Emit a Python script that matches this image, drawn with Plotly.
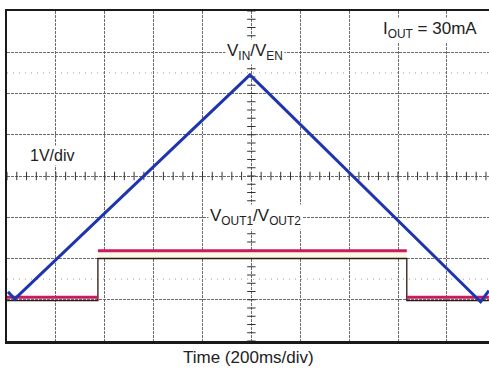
import numpy as np
import plotly.graph_objects as go

# Data (in scope divisions: x = time div, y = voltage div)
vin_x = [0.02, 0.16, 4.97, 9.69, 9.86]
vin_y = [1.19, 1.02, 6.45, 0.95, 1.22]

vout1_x = [0.0, 1.86, None, 1.86, 8.18, None, 8.18, 9.86]
vout1_y = [1.06, 1.06, None, 2.19, 2.19, None, 1.06, 1.06]

vout2_x = [0.0, 1.86, 1.86, 8.18, 8.18, 9.86]
vout2_y = [0.98, 0.98, 2.0, 2.0, 0.98, 0.98]

fill_x = [1.86, 8.18]
fill_lo = [2.0, 2.0]
fill_hi = [2.19, 2.19]

cursor_levels = [1.5, 6.5]

X_MAX = 9.862
Y_MAX = 8

FONT = "Liberation Sans, Arial, sans-serif"
TXT = "#222222"

fig = go.Figure()

# cursor dotted lines
for lv in cursor_levels:
    fig.add_trace(go.Scatter(x=[0, X_MAX], y=[lv, lv], mode="lines",
                             line=dict(color="#a0a0a0", width=1, dash="1px,5px"),
                             hoverinfo="skip", showlegend=False))

# center-axis minor ticks
tx = np.arange(0, X_MAX + 0.01, 0.2)
fig.add_trace(go.Scatter(x=tx, y=[4] * len(tx), mode="markers",
                         marker=dict(symbol="line-ns-open", size=6, color="#333333",
                                     line=dict(color="#333333", width=1)),
                         hoverinfo="skip", showlegend=False))
ty = np.arange(0, Y_MAX + 0.01, 0.2)
fig.add_trace(go.Scatter(x=[5] * len(ty), y=ty, mode="markers",
                         marker=dict(symbol="line-ew-open", size=6, color="#333333",
                                     line=dict(color="#333333", width=1)),
                         hoverinfo="skip", showlegend=False))

# cream fill between VOUT2 and VOUT1 high levels
fig.add_trace(go.Scatter(x=fill_x, y=fill_lo, mode="lines",
                         line=dict(width=0), hoverinfo="skip", showlegend=False))
fig.add_trace(go.Scatter(x=fill_x, y=fill_hi, mode="lines", fill="tonexty",
                         fillcolor="#faf7e6", line=dict(width=0),
                         hoverinfo="skip", showlegend=False))

# VOUT2 (dark)
fig.add_trace(go.Scatter(x=vout2_x, y=vout2_y, mode="lines",
                         line=dict(color="#2a1a12", width=1.3),
                         showlegend=False))
# VOUT1 (magenta)
fig.add_trace(go.Scatter(x=vout1_x, y=vout1_y, mode="lines", connectgaps=False,
                         line=dict(color="#cc1a5e", width=3),
                         showlegend=False))
# VIN/VEN (blue)
fig.add_trace(go.Scatter(x=vin_x, y=vin_y, mode="lines",
                         line=dict(color="#1f35b0", width=3),
                         showlegend=False))

ann_font = dict(family=FONT, size=17, color=TXT)
fig.add_annotation(x=5.08, y=7, text="V<sub>IN</sub>/V<sub>EN</sub>",
                   showarrow=False, bgcolor="white", font=ann_font,
                   xanchor="center", yanchor="middle", borderpad=1)
fig.add_annotation(x=5.08, y=3, text="V<sub>OUT1</sub>/V<sub>OUT2</sub>",
                   showarrow=False, bgcolor="white", font=ann_font,
                   xanchor="center", yanchor="middle", borderpad=1)
fig.add_annotation(x=8.65, y=7.55, text="I<sub>OUT</sub> = 30mA",
                   showarrow=False, bgcolor="white", font=ann_font,
                   xanchor="center", yanchor="middle")
fig.add_annotation(x=0.92, y=4.5, text="1V/div",
                   showarrow=False, bgcolor="white", font=dict(family=FONT, size=16, color=TXT),
                   xanchor="center", yanchor="middle")
fig.add_annotation(x=0.5, xref="paper", y=-0.05, yref="paper",
                   text="Time (200ms/div)", showarrow=False, font=ann_font,
                   xanchor="center", yanchor="middle")

grid = dict(showgrid=True, gridcolor="#6a6a6a", gridwidth=1, griddash="3px,1px",
            showticklabels=False, ticks="", zeroline=False, fixedrange=True)

fig.update_layout(
    width=489, height=371,
    margin=dict(l=7, r=0, t=11, b=30),
    paper_bgcolor="white", plot_bgcolor="white",
    xaxis=dict(range=[0, X_MAX], dtick=1, tick0=0,
               showline=True, linecolor="#1a1a1a", linewidth=2.5, mirror=True,
               **grid),
    yaxis=dict(range=[0, Y_MAX], dtick=1, tick0=0,
               showline=True, linecolor="#1a1a1a", linewidth=2.5, mirror=False,
               **grid),
    font=dict(family=FONT, color=TXT),
)

fig.write_html("out.html", config={"displayModeBar": False, "staticPlot": True},
               post_script="document.body.style.margin='0';document.body.style.overflow='hidden';")
